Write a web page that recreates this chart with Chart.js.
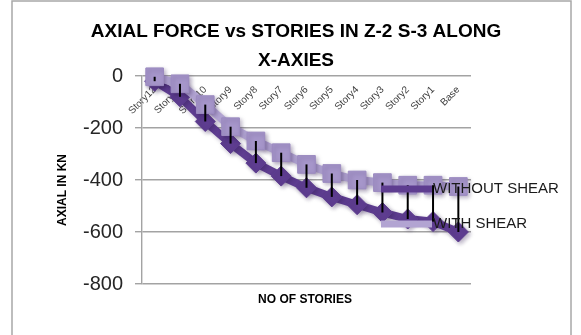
<!DOCTYPE html>
<html>
<head>
<meta charset="utf-8">
<script src="https://cdn.jsdelivr.net/npm/chart.js@4.4.1/dist/chart.umd.min.js"></script>
<style>
  html, body { margin: 0; padding: 0; background: #fff; }
  #wrap { position: relative; width: 581px; height: 335px; }
</style>
</head>
<body>
<div id="wrap"><canvas id="chart" width="581" height="335"></canvas></div>
<script>
// story axial force (kN), top storey first
const stories = ['Story12', 'Story11', 'Story10', 'Story9', 'Story8', 'Story7', 'Story6',
  'Story5', 'Story4', 'Story3', 'Story2', 'Story1', 'Base'];
const withoutShear = [-20, -80, -175, -260, -335, -385, -430, -465, -495, -525, -550, -560, -600];
const withShear = [-3, -30, -110, -195, -250, -295, -340, -375, -400, -410, -420, -420, -425];
const yTicks = [0, -200, -400, -600, -800];

const chartTitle = ['AXIAL FORCE vs STORIES IN Z-2 S-3 ALONG', 'X-AXIES'];
const xTitle = 'NO OF STORIES';
const yTitle = 'AXIAL IN KN';

const DARK = '#5e3d90';
const LIGHT = '#a696ca';
const LIGHT_LINE = '#b2a4d2';
const GRID = '#a3a3a3';
const FONT = "'Liberation Sans', Arial, sans-serif";

// frame, marker shadows, high-low lines, legend and titles
const decor = {
  id: 'decor',
  beforeDraw(chart) {
    const ctx = chart.ctx;
    ctx.save();
    ctx.strokeStyle = '#a8a8a8';
    ctx.lineWidth = 1.5;
    ctx.strokeRect(12, 1, 559, 380);
    ctx.restore();
  },
  beforeDatasetsDraw(chart) {
    const ctx = chart.ctx;
    ctx.save();
    ctx.shadowColor = 'rgba(50,30,80,0.35)';
    ctx.shadowBlur = 4;
    ctx.shadowOffsetX = 2;
    ctx.shadowOffsetY = 2;
  },
  afterDatasetsDraw(chart) {
    const ctx = chart.ctx;
    ctx.restore();
    const xs = chart.scales.x, ys = chart.scales.y;

    // high-low lines between the two series
    ctx.save();
    ctx.strokeStyle = '#000';
    ctx.lineWidth = 2;
    stories.forEach((s, i) => {
      const x = xs.getPixelForValue(i);
      ctx.beginPath();
      ctx.moveTo(x, ys.getPixelForValue(withShear[i]));
      ctx.lineTo(x, ys.getPixelForValue(withoutShear[i]));
      ctx.stroke();
    });
    ctx.restore();

    // legend sits over the plot on the right
    const entries = [
      { text: 'WITHOUT SHEAR', color: DARK, y: 189 },
      { text: 'WITH SHEAR', color: LIGHT_LINE, y: 224 }
    ];
    ctx.save();
    ctx.lineWidth = 7;
    entries.forEach((e) => {
      ctx.strokeStyle = e.color;
      ctx.beginPath();
      ctx.moveTo(381, e.y);
      ctx.lineTo(432, e.y);
      ctx.stroke();
    });
    ctx.fillStyle = '#1a1a1a';
    ctx.font = '15px ' + FONT;
    ctx.textBaseline = 'middle';
    ctx.textAlign = 'left';
    entries.forEach((e) => ctx.fillText(e.text, 433, e.y));
    ctx.restore();
  },
  afterDraw(chart) {
    const ctx = chart.ctx;
    ctx.save();
    ctx.fillStyle = '#000';
    ctx.textAlign = 'center';
    ctx.textBaseline = 'middle';
    ctx.font = 'bold 19px ' + FONT;
    ctx.fillText(chartTitle[0], 296, 32);
    ctx.fillText(chartTitle[1], 296, 61);

    ctx.font = 'bold 12px ' + FONT;
    ctx.fillText(xTitle, 305, 300);

    ctx.translate(63, 190);
    ctx.rotate(-Math.PI / 2);
    ctx.fillText(yTitle, 0, 0);
    ctx.restore();
  }
};

new Chart(document.getElementById('chart'), {
  type: 'line',
  data: {
    labels: stories,
    datasets: [
      {
        label: 'WITH SHEAR',
        data: withShear,
        borderColor: LIGHT_LINE,
        backgroundColor: LIGHT,
        borderWidth: 8,
        pointStyle: 'rect',
        pointRadius: 12.5,
        pointBackgroundColor: LIGHT,
        pointBorderColor: '#9c8bc1',
        pointBorderWidth: 1,
        tension: 0,
        clip: false
      },
      {
        label: 'WITHOUT SHEAR',
        data: withoutShear,
        borderColor: DARK,
        backgroundColor: DARK,
        borderWidth: 8,
        pointStyle: 'rectRot',
        pointRadius: 10,
        pointBackgroundColor: DARK,
        pointBorderColor: DARK,
        pointBorderWidth: 1,
        tension: 0,
        clip: false
      }
    ]
  },
  options: {
    responsive: false,
    animation: false,
    devicePixelRatio: 1,
    layout: { padding: { top: 76, right: 110, bottom: 51, left: 0 } },
    plugins: {
      legend: { display: false },
      title: { display: false },
      tooltip: { enabled: false }
    },
    scales: {
      x: {
        type: 'category',
        position: { y: 0 },
        offset: true,
        grid: { display: false, drawTicks: false },
        border: { display: false },
        ticks: {
          autoSkip: false,
          minRotation: 45,
          maxRotation: 45,
          padding: 8,
          color: '#404040',
          font: { family: FONT, size: 10 }
        }
      },
      y: {
        min: -800,
        max: 0,
        afterFit(scale) { scale.width = 142; },
        afterBuildTicks(scale) { scale.ticks = yTicks.map((v) => ({ value: v })); },
        grid: { color: GRID, lineWidth: 1.4, tickLength: 7, drawTicks: true },
        border: { color: GRID, width: 1.4 },
        ticks: {
          padding: 12,
          color: '#262626',
          font: { family: FONT, size: 20 }
        }
      }
    }
  },
  plugins: [decor]
});
</script>
</body>
</html>
